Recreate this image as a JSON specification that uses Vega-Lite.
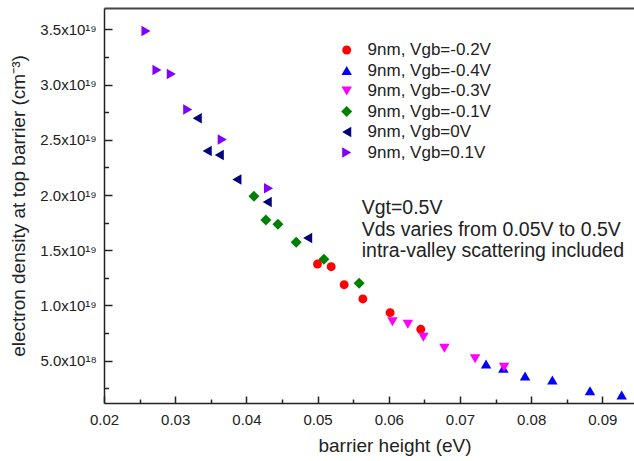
{
  "$schema": "https://vega.github.io/schema/vega-lite/v6.json",
  "width": 530,
  "height": 395,
  "autosize": "none",
  "padding": {"left": 104, "top": 8, "right": 0, "bottom": 58},
  "background": "white",
  "config": {
    "font": "Liberation Sans",
    "view": {"stroke": null},
    "axis": {
      "grid": false,
      "domainColor": "#222",
      "domainWidth": 1.5,
      "tickColor": "#222",
      "tickWidth": 1.5,
      "labelColor": "#222",
      "titleColor": "#222",
      "labelFont": "Liberation Sans",
      "titleFont": "Liberation Sans",
      "titleFontWeight": "normal",
      "labelFlush": false,
      "labelOverlap": false
    }
  },
  "datasets": {
    "points": [
      {"series": "9nm, Vgb=0.1V", "barrier": 0.02590, "density": 3.485e19},
      {"series": "9nm, Vgb=0.1V", "barrier": 0.02744, "density": 3.132e19},
      {"series": "9nm, Vgb=0.1V", "barrier": 0.02945, "density": 3.095e19},
      {"series": "9nm, Vgb=0.1V", "barrier": 0.03176, "density": 2.774e19},
      {"series": "9nm, Vgb=0.1V", "barrier": 0.03661, "density": 2.503e19},
      {"series": "9nm, Vgb=0.1V", "barrier": 0.04311, "density": 2.061e19},
      {"series": "9nm, Vgb=0V", "barrier": 0.03310, "density": 2.694e19},
      {"series": "9nm, Vgb=0V", "barrier": 0.03450, "density": 2.398e19},
      {"series": "9nm, Vgb=0V", "barrier": 0.03619, "density": 2.362e19},
      {"series": "9nm, Vgb=0V", "barrier": 0.03867, "density": 2.140e19},
      {"series": "9nm, Vgb=0V", "barrier": 0.04293, "density": 1.937e19},
      {"series": "9nm, Vgb=0V", "barrier": 0.04861, "density": 1.611e19},
      {"series": "9nm, Vgb=-0.1V", "barrier": 0.04106, "density": 1.988e19},
      {"series": "9nm, Vgb=-0.1V", "barrier": 0.04274, "density": 1.774e19},
      {"series": "9nm, Vgb=-0.1V", "barrier": 0.04443, "density": 1.736e19},
      {"series": "9nm, Vgb=-0.1V", "barrier": 0.04700, "density": 1.572e19},
      {"series": "9nm, Vgb=-0.1V", "barrier": 0.05089, "density": 1.418e19},
      {"series": "9nm, Vgb=-0.1V", "barrier": 0.05584, "density": 1.201e19},
      {"series": "9nm, Vgb=-0.2V", "barrier": 0.04999, "density": 1.375e19},
      {"series": "9nm, Vgb=-0.2V", "barrier": 0.05191, "density": 1.351e19},
      {"series": "9nm, Vgb=-0.2V", "barrier": 0.05374, "density": 1.188e19},
      {"series": "9nm, Vgb=-0.2V", "barrier": 0.05636, "density": 1.059e19},
      {"series": "9nm, Vgb=-0.2V", "barrier": 0.06019, "density": 9.35e18},
      {"series": "9nm, Vgb=-0.2V", "barrier": 0.06450, "density": 7.84e18},
      {"series": "9nm, Vgb=-0.4V", "barrier": 0.07367, "density": 4.70e18},
      {"series": "9nm, Vgb=-0.4V", "barrier": 0.07610, "density": 4.31e18},
      {"series": "9nm, Vgb=-0.4V", "barrier": 0.07915, "density": 3.61e18},
      {"series": "9nm, Vgb=-0.4V", "barrier": 0.08298, "density": 3.25e18},
      {"series": "9nm, Vgb=-0.4V", "barrier": 0.08827, "density": 2.28e18},
      {"series": "9nm, Vgb=-0.4V", "barrier": 0.09272, "density": 1.89e18},
      {"series": "9nm, Vgb=-0.3V", "barrier": 0.06052, "density": 8.53e18},
      {"series": "9nm, Vgb=-0.3V", "barrier": 0.06268, "density": 8.30e18},
      {"series": "9nm, Vgb=-0.3V", "barrier": 0.06487, "density": 7.12e18},
      {"series": "9nm, Vgb=-0.3V", "barrier": 0.06782, "density": 6.12e18},
      {"series": "9nm, Vgb=-0.3V", "barrier": 0.07213, "density": 5.18e18},
      {"series": "9nm, Vgb=-0.3V", "barrier": 0.07620, "density": 4.40e18}
    ],
    "notes": [
      {"label": "Vgt=0.5V", "barrier": 0.05620, "density": 1.828e19},
      {"label": "Vds varies from 0.05V to 0.5V", "barrier": 0.05620, "density": 1.629e19},
      {"label": "intra-valley scattering included", "barrier": 0.05620, "density": 1.439e19}
    ]
  },
  "layer": [
    {
      "data": {"name": "points"},
      "mark": {"type": "point", "filled": true, "opacity": 1, "strokeWidth": 0},
      "encoding": {
        "x": {
          "field": "barrier", "type": "quantitative",
          "scale": {"domain": [0.02, 0.09445], "nice": false, "zero": false},
          "axis": {
            "orient": "bottom",
            "values": [0.02, 0.03, 0.04, 0.05, 0.06, 0.07, 0.08, 0.09],
            "format": ".2f",
            "labelFontSize": 15,
            "tickSize": -7,
            "labelPadding": 16,
            "title": "barrier height (eV)",
            "titleFontSize": 19,
            "titleX": 290.5,
            "titleY": 48,
            "titleBaseline": "alphabetic",
            "titleAlign": "center"
          }
        },
        "y": {
          "field": "density", "type": "quantitative",
          "scale": {"domain": [1.17e18, 3.693e19], "nice": false, "zero": false},
          "axis": {
            "orient": "left",
            "values": [5e18, 1e19, 1.5e19, 2e19, 2.5e19, 3e19, 3.5e19],
            "labelExpr": "datum.value < 7e18 ? '5.0x10¹⁸' : format(datum.value / 1e19, '.1f') + 'x10¹⁹'",
            "labelFontSize": 15,
            "tickSize": -8,
            "labelPadding": 15.7,
            "title": "electron density at top barrier (cm⁻³)",
            "titleFontSize": 19,
            "titleX": -86,
            "titleBaseline": "middle",
            "titleAngle": -90
          }
        },
        "color": {
          "field": "series", "type": "nominal",
          "scale": {
            "domain": ["9nm, Vgb=-0.2V", "9nm, Vgb=-0.4V", "9nm, Vgb=-0.3V", "9nm, Vgb=-0.1V", "9nm, Vgb=0V", "9nm, Vgb=0.1V"],
            "range": ["#ff0000", "#0000ff", "#ff00ff", "#008000", "#000080", "#8000ff"]
          },
          "legend": {"orient": "none", "legendX": 234.2, "legendY": 33.5, "title": null, "labelFontSize": 17, "labelFont": "Liberation Sans", "labelColor": "#222", "labelOffset": 12.4, "rowPadding": 2.5, "padding": 0, "symbolStrokeWidth": 0}
        },
        "shape": {
          "field": "series", "type": "nominal",
          "scale": {
            "domain": ["9nm, Vgb=-0.2V", "9nm, Vgb=-0.4V", "9nm, Vgb=-0.3V", "9nm, Vgb=-0.1V", "9nm, Vgb=0V", "9nm, Vgb=0.1V"],
            "range": ["circle", "triangle-up", "triangle-down", "diamond", "triangle-left", "triangle-right"]
          },
          "legend": {"orient": "none", "legendX": 234.2, "legendY": 33.5, "title": null, "labelFontSize": 17, "labelFont": "Liberation Sans", "labelColor": "#222", "labelOffset": 12.4, "rowPadding": 2.5, "padding": 0, "symbolStrokeWidth": 0}
        },
        "size": {
          "field": "series", "type": "nominal",
          "scale": {
            "type": "ordinal",
            "domain": ["9nm, Vgb=-0.2V", "9nm, Vgb=-0.4V", "9nm, Vgb=-0.3V", "9nm, Vgb=-0.1V", "9nm, Vgb=0V", "9nm, Vgb=0.1V"],
            "range": [80, 110, 110, 121, 110, 110]
          },
          "legend": {"orient": "none", "legendX": 234.2, "legendY": 33.5, "title": null, "labelFontSize": 17, "labelFont": "Liberation Sans", "labelColor": "#222", "labelOffset": 12.4, "rowPadding": 2.5, "padding": 0, "symbolStrokeWidth": 0}
        }
      }
    },
    {
      "data": {"name": "points"},
      "mark": {"type": "point", "opacity": 0},
      "encoding": {
        "x": {
          "field": "barrier", "type": "quantitative",
          "scale": {"domain": [0.02, 0.09445], "nice": false, "zero": false},
          "axis": {"orient": "bottom", "values": [0.025, 0.035, 0.045, 0.055, 0.065, 0.075, 0.085], "labels": false, "domain": false, "tickSize": -4, "title": null}
        },
        "y": {
          "field": "density", "type": "quantitative",
          "scale": {"domain": [1.17e18, 3.693e19], "nice": false, "zero": false},
          "axis": {"orient": "left", "values": [2.5e18, 7.5e18, 1.25e19, 1.75e19, 2.25e19, 2.75e19, 3.25e19], "labels": false, "domain": false, "tickSize": -4.5, "title": null}
        }
      }
    },
    {
      "data": {"name": "points"},
      "mark": {"type": "point", "opacity": 0},
      "encoding": {
        "x": {
          "field": "barrier", "type": "quantitative",
          "scale": {"domain": [0.02, 0.09445], "nice": false, "zero": false},
          "axis": {"orient": "top", "labels": false, "ticks": false, "domain": true, "domainColor": "#444", "domainWidth": 2, "title": null}
        },
        "y": {
          "field": "density", "type": "quantitative",
          "scale": {"domain": [1.17e18, 3.693e19], "nice": false, "zero": false},
          "axis": null
        }
      }
    },
    {
      "data": {"name": "notes"},
      "mark": {"type": "text", "align": "left", "baseline": "alphabetic", "fontSize": 19.5, "font": "Liberation Sans", "color": "#222"},
      "encoding": {
        "x": {"field": "barrier", "type": "quantitative", "scale": {"domain": [0.02, 0.09445], "nice": false, "zero": false}, "axis": null},
        "y": {"field": "density", "type": "quantitative", "scale": {"domain": [1.17e18, 3.693e19], "nice": false, "zero": false}, "axis": null},
        "text": {"field": "label"}
      }
    }
  ],
  "resolve": {"axis": {"x": "independent", "y": "independent"}}
}
